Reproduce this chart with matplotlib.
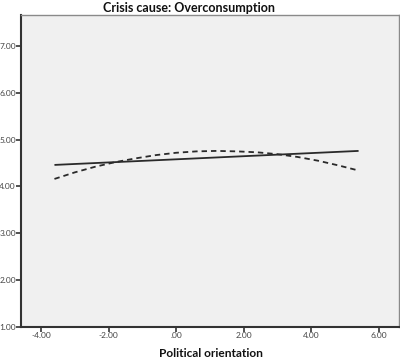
import matplotlib
matplotlib.use("Agg")
import matplotlib.pyplot as plt

plt.rcParams["font.family"] = ["Lato", "DejaVu Sans"]

# Solid line (linear fit) end points
lin_x = [-3.6, 5.4]
lin_y = [4.46, 4.76]

# Dashed line (quadratic fit)
quad_x = [-3.6, -3.0, -2.4, -1.8, -1.2, -0.6, 0.0, 0.6, 1.2, 1.8, 2.4, 3.0, 3.6, 4.2, 4.8, 5.4]
quad_y = [4.16, 4.30, 4.42, 4.52, 4.60, 4.67, 4.72, 4.75, 4.76, 4.75, 4.73, 4.69, 4.63, 4.55, 4.45, 4.34]

xticks = [-4, -2, 0, 2, 4, 6]
xtick_labels = ["-4.00", "-2.00", ".00", "2.00", "4.00", "6.00"]
yticks = [1, 2, 3, 4, 5, 6, 7]
ytick_labels = ["1.00", "2.00", "3.00", "4.00", "5.00", "6.00", "7.00"]

fig = plt.figure(figsize=(4.0, 3.59), dpi=100)
ax = fig.add_axes([0.0525, 0.0905, 0.9445, 0.869])
ax.set_facecolor("#f0f0f0")

ax.plot(lin_x, lin_y, color="#2a2a2a", lw=1.3, solid_capstyle="butt")
ax.plot(quad_x, quad_y, color="#2a2a2a", lw=1.3, linestyle=(0, (3.0, 2.2)))

ax.set_xlim(-4.59, 6.59)
ax.set_ylim(1.0, 7.68)
ax.set_xticks(xticks)
ax.set_xticklabels(xtick_labels)
ax.set_yticks(yticks)
ax.set_yticklabels(ytick_labels)
ax.tick_params(axis="both", direction="out", length=3.4, width=1.2, color="#333333",
               labelsize=6, labelcolor="#444444", pad=0.3)

for side in ["left", "bottom"]:
    ax.spines[side].set_color("#333333")
    ax.spines[side].set_linewidth(1.5)
for side in ["top", "right"]:
    ax.spines[side].set_color("#8a8a8a")
    ax.spines[side].set_linewidth(1.0)

fig.text(211 / 400, 1 - 357 / 359, "Political orientation", ha="center", va="baseline",
         fontsize=8.6, fontweight="bold", color="#111111")
fig.text(189 / 400, 1 - 11.5 / 359, "Crisis cause: Overconsumption", ha="center", va="baseline",
         fontsize=9.0, fontweight="bold", color="#111111")

fig.savefig("out.png", dpi=100)
